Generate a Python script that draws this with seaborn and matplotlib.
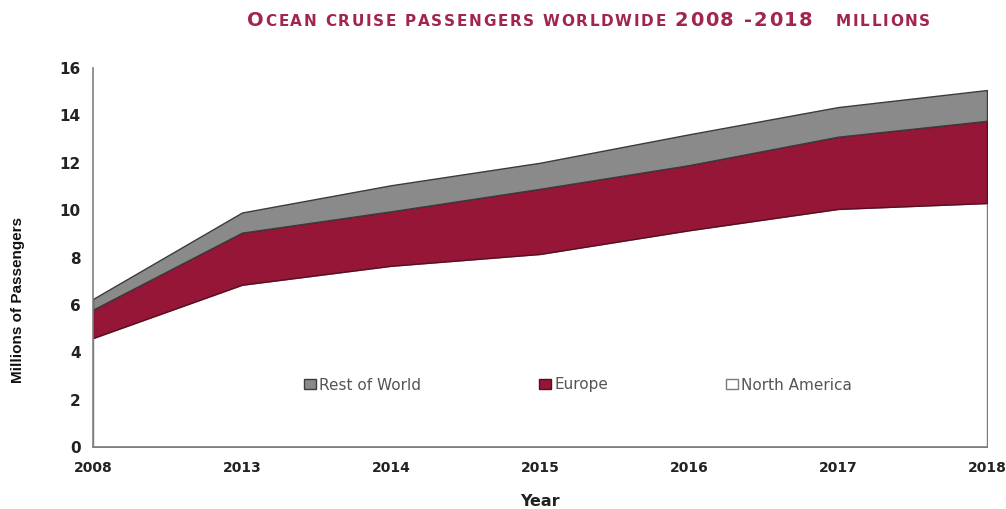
import numpy as np
import pandas as pd
import matplotlib
matplotlib.use("Agg")
import matplotlib.pyplot as plt
import seaborn as sns
from matplotlib.patches import Patch

# Passenger numbers, millions
years = ["2008", "2013", "2014", "2015", "2016", "2017", "2018"]
north_america = [4.6, 6.85, 7.65, 8.15, 9.15, 10.05, 10.3]
europe = [1.2, 2.2, 2.3, 2.75, 2.75, 3.05, 3.47]
rest_of_world = [0.45, 0.85, 1.1, 1.1, 1.3, 1.25, 1.3]
y_ticks = [0, 2, 4, 6, 8, 10, 12, 14, 16]

df = pd.DataFrame({"Year": years, "North America": north_america,
                   "Europe": europe, "Rest of World": rest_of_world})

sns.set_theme(style="white")
plt.rcParams["font.family"] = ["DejaVu Sans"]

RED = "#951637"
GREY = "#8a8a8a"
TITLE_COLOR = "#a12550"
AXIS_GREY = "#808080"
TEXT = "#222222"

W, H = 1006, 509
fig = plt.figure(figsize=(W / 100, H / 100), dpi=100)
ax = fig.add_axes([93 / W, 1 - 447 / H, (987 - 93) / W, (447 - 68) / H])

x = np.arange(len(df))
polys = ax.stackplot(x, df["North America"], df["Europe"], df["Rest of World"],
                     colors=["white", RED, GREY], linewidth=1.0)
polys[0].set_edgecolor("#7a7a7a")
polys[1].set_edgecolor("#5a0d20")
polys[2].set_edgecolor("#3c3c3c")

ax.set_xlim(0, len(df) - 1)
ax.set_ylim(0, 16)
ax.set_xticks(x)
ax.set_xticklabels(df["Year"])
ax.set_yticks(y_ticks)
ax.set_yticklabels([str(v) for v in y_ticks])

for side in ["top", "right"]:
    ax.spines[side].set_visible(False)
for side in ["left", "bottom"]:
    ax.spines[side].set_color(AXIS_GREY)
    ax.spines[side].set_linewidth(1.2)

ax.tick_params(axis="both", which="major", direction="out", length=4, width=1,
               color=AXIS_GREY, labelcolor=TEXT)
ax.tick_params(axis="x", pad=6, labelsize=10)
ax.tick_params(axis="y", pad=5, labelsize=11)
for lbl in ax.get_xticklabels() + ax.get_yticklabels():
    lbl.set_fontweight("bold")

ax.set_xlabel("Year", fontsize=11.5, fontweight="bold", color=TEXT, labelpad=14)
fig.text(18 / W, 1 - 300 / H, "Millions of Passengers", rotation=90,
         ha="center", va="center", fontsize=11, fontweight="bold",
         color="#111111", family=["Liberation Sans", "DejaVu Sans"])

handles = [
    Patch(facecolor=GREY, edgecolor="#3c3c3c", label="Rest of World"),
    Patch(facecolor=RED, edgecolor="#5a0d20", label="Europe"),
    Patch(facecolor="white", edgecolor="#7a7a7a", label="North America"),
]
fig.legend(handles=handles, loc="center left", bbox_to_anchor=(304 / W, 1 - 385 / H),
           ncol=3, frameon=False, fontsize=11, handlelength=0.8, handleheight=0.65,
           handletextpad=0.2, columnspacing=7.7, borderpad=0, borderaxespad=0,
           labelcolor="#555555")

# Title drawn letter by letter to imitate spaced small capitals
pieces = [("O", 14.0), ("CEAN CRUISE PASSENGERS WORLDWIDE ", 11.0),
          ("2008 -2018", 14.0), ("   MILLIONS", 11.0)]
renderer = fig.canvas.get_renderer()
glyphs = []
for s, size in pieces:
    for ch in s:
        t = fig.text(0, 1 - 26 / H, ch, fontsize=size, fontweight="bold",
                     color=TITLE_COLOR, ha="left", va="baseline")
        if ch == " ":
            w = size * 100 / 72 * 0.35
        else:
            w = t.get_window_extent(renderer).width
        glyphs.append((t, w))
left, right = 247, 930
natural = sum(w for _, w in glyphs)
gap = (right - left - natural) / (len(glyphs) - 1)
cur = left
for t, w in glyphs:
    t.set_x(cur / W)
    cur += w + gap

fig.savefig("out.png", dpi=100, facecolor="white")
